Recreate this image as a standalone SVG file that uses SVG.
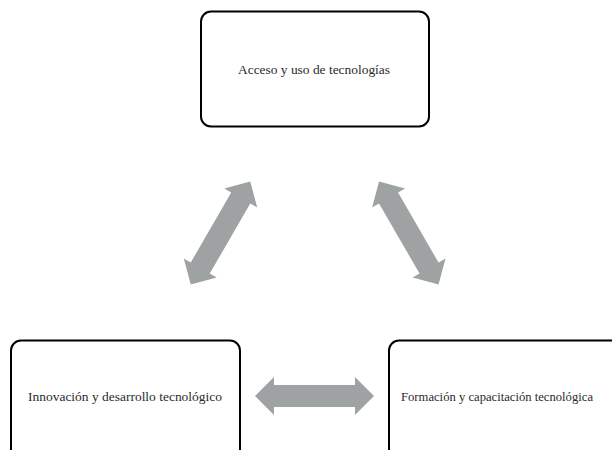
<svg xmlns="http://www.w3.org/2000/svg" width="612" height="450" viewBox="0 0 612 450">
<style>
.box{fill:#fff;stroke:#000;stroke-width:2}
.lbl{font-family:"Liberation Serif","Times New Roman",serif;font-size:13.2px;fill:#2a2a2a;text-anchor:middle}
.arr{fill:#9fa2a3}
</style>
<defs>
<path id="dbl" d="M-59.5,0 L-40.5,-19 L-40.5,-11 L40.5,-11 L40.5,-19 L59.5,0 L40.5,19 L40.5,11 L-40.5,11 L-40.5,19 Z"/>
</defs>
<rect x="0" y="0" width="612" height="450" fill="#fff"/>
<g id="connectors" class="arr">
<use href="#dbl" transform="translate(220.5,233) rotate(-60)"/>
<use href="#dbl" transform="translate(408.8,233) rotate(60)"/>
<use href="#dbl" transform="translate(314.5,396)"/>
</g>
<g id="node-acceso">
<rect class="box" x="201" y="11.5" width="228" height="115" rx="10"/>
<text class="lbl" x="314" y="74" textLength="152" lengthAdjust="spacingAndGlyphs">Acceso y uso de tecnologías</text>
</g>
<g id="node-innovacion">
<rect class="box" x="11" y="340.5" width="229" height="125" rx="10"/>
<text class="lbl" x="125" y="401" textLength="194" lengthAdjust="spacingAndGlyphs">Innovación y desarrollo tecnológico</text>
</g>
<g id="node-formacion">
<rect class="box" x="389" y="340.5" width="240" height="125" rx="10"/>
<text class="lbl" x="497" y="401" textLength="192" lengthAdjust="spacingAndGlyphs">Formación y capacitación tecnológica</text>
</g>
</svg>
